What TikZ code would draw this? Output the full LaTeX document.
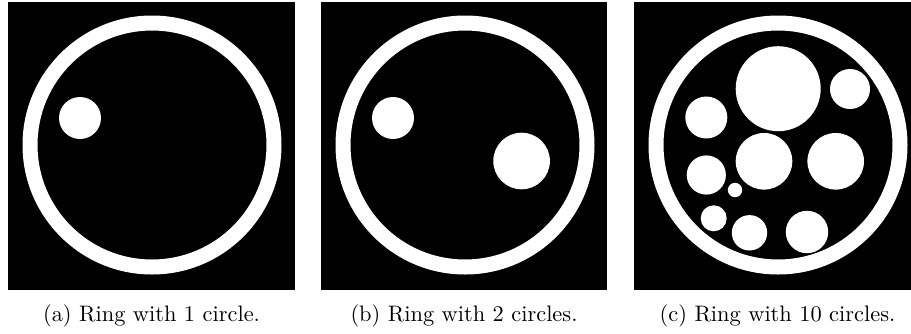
\documentclass[tikz,border=0pt]{standalone}
\usetikzlibrary{calc}
\begin{document}
\begin{tikzpicture}[x=1pt,y=-1pt,
  panelbg/.style={fill=black},
  blob/.style={fill=white},
  captext/.style={anchor=base,inner sep=0pt,scale=2.24,font=\fontsize{10}{12}\selectfont}]
\clip (0,0) rectangle (911,333);
\fill[white] (0,0) rectangle (911,333);
% panels
\fill[panelbg] (8,2) rectangle (295,290);
\fill[panelbg] (321,2) rectangle (607,290);
\fill[panelbg] (634,2) rectangle (921,290);
\coordinate (ca) at (152,145);
\coordinate (cb) at (465,145);
\coordinate (cc) at (778,145);
% rings
\foreach \c in {ca,cb,cc}{
  \fill[white,even odd rule] (\c) circle[radius=129.5pt] (\c) circle[radius=114.5pt];
}
% panel a
\fill[blob] ($(ca)+(-72,-27)$) circle[radius=21pt];
% panel b
\fill[blob] ($(cb)+(-72,-27)$) circle[radius=21pt];
\fill[blob] ($(cb)+(56.6,16)$) circle[radius=28.3pt];
% panel c
\fill[blob] ($(cc)+(0.2,-56.3)$) circle[radius=42.5pt];
\fill[blob] ($(cc)+(72,-56)$) circle[radius=20pt];
\fill[blob] ($(cc)+(-71.7,-27.5)$) circle[radius=21pt];
\fill[blob] ($(cc)+(-14,16.3)$) circle[radius=28.3pt];
\fill[blob] ($(cc)+(57.7,16.3)$) circle[radius=28.3pt];
\fill[blob] ($(cc)+(-71.7,30)$) circle[radius=19.6pt];
\fill[blob] ($(cc)+(-43,45)$) circle[radius=7.2pt];
\fill[blob] ($(cc)+(-64.3,73.3)$) circle[radius=13pt];
\fill[blob] ($(cc)+(-28.5,87.8)$) circle[radius=17.7pt];
\fill[blob] ($(cc)+(29,87)$) circle[radius=21.2pt];
% captions
\node[captext] (capa) at (151.5,321) {(a) Ring with 1 circle.};
\node[captext] (capb) at (464,321) {(b) Ring with 2 circles.};
\node[captext] (capc) at (777.5,321) {(c) Ring with 10 circles.};
\end{tikzpicture}
\end{document}
